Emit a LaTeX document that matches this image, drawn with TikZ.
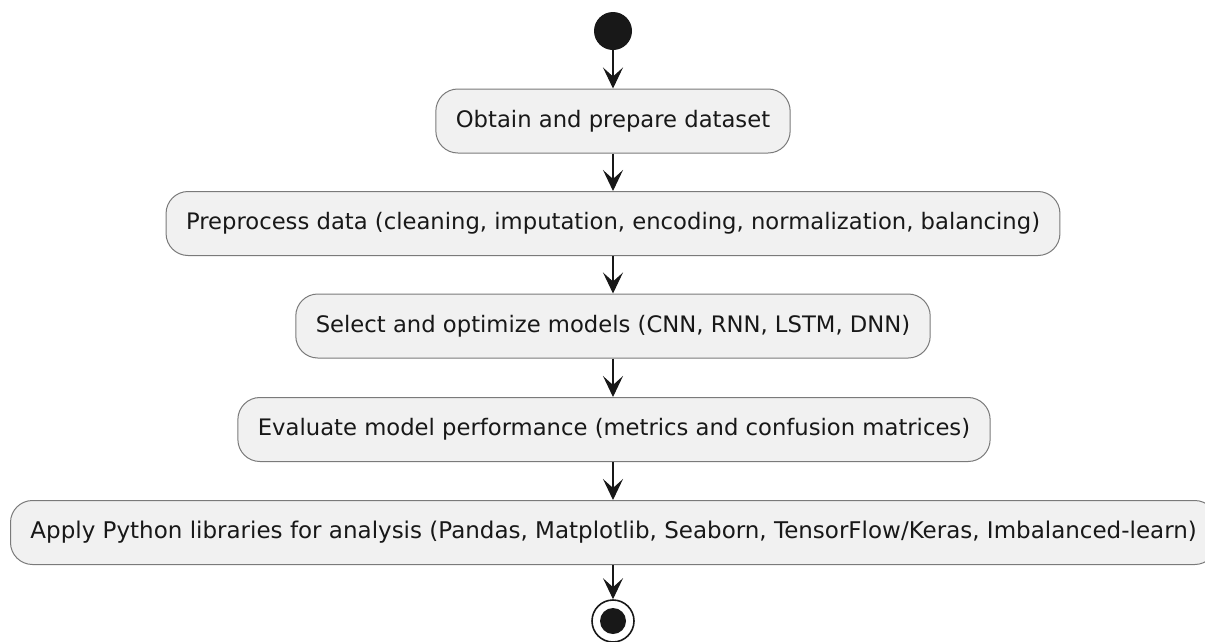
\documentclass[tikz,border=0pt]{standalone}
\usepackage{fontspec}
\setmainfont{DejaVu Sans}
\usetikzlibrary{arrows.meta}
\definecolor{actfill}{HTML}{F1F1F1}
\definecolor{actline}{HTML}{7A7A7A}
\definecolor{ink}{HTML}{181818}
\begin{document}
\begin{tikzpicture}[x=1pt,y=-1pt,
  action/.style={draw=actline, fill=actfill, line width=1pt, rounded corners=22pt,
    minimum height=64pt, inner xsep=20pt, inner ysep=0pt, text=ink,
    font=\fontsize{22.7}{27}\selectfont},
  flow/.style={draw=ink, line width=1.1pt, -{Stealth[length=21pt, width=20pt, inset=9pt]}},
  startdot/.style={circle, fill=ink, minimum size=38pt, inner sep=0pt},
  endring/.style={circle, draw=ink, line width=1.6pt, fill=white, minimum size=42pt, inner sep=0pt},
  enddot/.style={circle, fill=ink, minimum size=26pt, inner sep=0pt}]
\useasboundingbox (0,0) rectangle (1205,641);
\begin{scope}
\clip (0,0) rectangle (1205,641);
\node[startdot] (start) at (613,31) {};
\node[action] (a1) at (613,121) {Obtain and prepare dataset};
\node[action] (a2) at (613,223.5) {Preprocess data (cleaning, imputation, encoding, normalization, balancing)};
\node[action] (a3) at (613,326) {Select and optimize models (CNN, RNN, LSTM, DNN)};
\node[action] (a4) at (614,429.5) {Evaluate model performance (metrics and confusion matrices)};
\node[action, anchor=west, font=\fontsize{23}{27}\selectfont] (a5) at (10,532.5) {Apply Python libraries for analysis (Pandas, Matplotlib, Seaborn, TensorFlow/Keras, Imbalanced-learn)};
\node[endring] (stop) at (613,621) {};
\node[enddot] (stopdot) at (stop.center) {};
\draw[flow] (start.south) -- (a1.north);
\draw[flow] (a1.south) -- (a2.north);
\draw[flow] (a2.south) -- (a3.north);
\draw[flow] (a3.south) -- (a4.north -| a3.south);
\draw[flow] (a4.south -| a3.south) -- (a5.north -| a3.south);
\draw[flow] (a5.south -| a3.south) -- (stop.north);
\end{scope}
\end{tikzpicture}
\end{document}
